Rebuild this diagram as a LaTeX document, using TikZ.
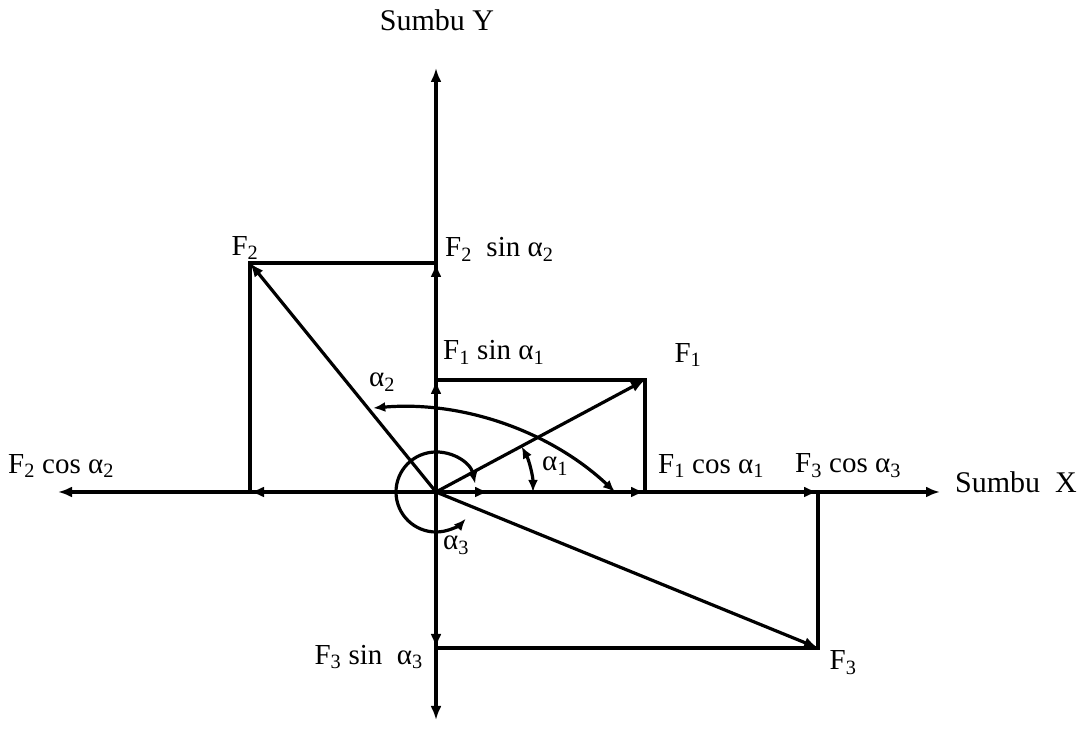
\documentclass[tikz,border=0pt]{standalone}
\usepackage{fontspec}
\setmainfont{Liberation Serif}
\usetikzlibrary{arrows.meta,calc}
\begin{document}
\begin{tikzpicture}[x=1pt,y=1pt,
  ln/.style={line width=3.2pt},
  vec/.style={ln,-{Latex[length=14pt,width=11pt]}},
  dvec/.style={ln,{Latex[length=12pt,width=10pt]}-{Latex[length=12pt,width=10pt]}},
  lbl/.style={font=\fontsize{29}{34}\selectfont,inner sep=0pt},
  axl/.style={font=\fontsize{30}{36}\selectfont,inner sep=0pt}]
\useasboundingbox (0,0) rectangle (1089,752);
% points
\coordinate (O) at (436,260);
\coordinate (Ytop) at (436,684);
\coordinate (Ybot) at (436,32);
\coordinate (Xr) at (940,260);
\coordinate (Xl) at (58,260);
\coordinate (F1) at (645,372);
\coordinate (F1y) at (436,372);
\coordinate (F1x) at (645,260);
\coordinate (F2) at (250,489);
\coordinate (F2y) at (436,489);
\coordinate (F2x) at (250,260);
\coordinate (F3) at (818,104);
\coordinate (F3y) at (436,104);
\coordinate (F3x) at (818,260);
\coordinate (Xs) at (489,260);
\coordinate (A2s) at (615,260);
% axes
\draw[vec] (O) -- (Ytop);
\draw[vec] (O) -- (Ybot);
\draw[vec] (O) -- (Xr);
\draw[vec] (O) -- (Xl);
% components
\draw[vec] (O) -- (F1y);
\draw[vec] (O) -- (F2y);
\draw[vec] (O) -- (F3y);
\draw[vec] (O) -- (F1x);
\draw[vec] (O) -- (F2x);
\draw[vec] (O) -- (F3x);
\draw[vec] (O) -- (Xs);
% rectangles
\draw[ln] (F1y) -- (F1) -- (F1x);
\draw[ln] (F2y) -- (F2) -- (F2x);
\draw[ln] (F3y) -- (F3) -- (F3x);
% force vectors
\draw[vec] (O) -- (F1);
\draw[vec] (O) -- (F2);
\draw[vec] (O) -- (F3);
% angle arcs
\draw[dvec] ($(O)+(97,0)$) arc[start angle=0,end angle=28,radius=97];
\draw[dvec] (A2s) arc[start angle=46.8,end angle=94.9,radius=314];
\draw[dvec] ($(O)+(12:40)$) arc[start angle=12,end angle=318,radius=40];
% labels
\node[axl] (sy) at (437,732) {Sumbu Y};
\node[axl,anchor=west] (sx) at (955,270) {Sumbu\ \ X};
\node[lbl] (lF2) at (245,504) {F\textsubscript{2}};
\node[lbl,anchor=west] (lF2s) at (445,503) {F\textsubscript{2}\ \ sin α\textsubscript{2}};
\node[lbl,anchor=west] (lF1s) at (443,400) {F\textsubscript{1} sin α\textsubscript{1}};
\node[lbl] (lF1) at (688,397) {F\textsubscript{1}};
\node[lbl] (la2) at (382,370) {α\textsubscript{2}};
\node[lbl] (la1) at (555,286) {α\textsubscript{1}};
\node[lbl,anchor=west] (lF1c) at (658,286) {F\textsubscript{1} cos α\textsubscript{1}};
\node[lbl,anchor=west] (lF3c) at (795,286) {F\textsubscript{3} cos α\textsubscript{3}};
\node[lbl,anchor=west] (lF2c) at (8,286) {F\textsubscript{2} cos α\textsubscript{2}};
\node[lbl,anchor=east] (lF3s) at (423,95) {F\textsubscript{3} sin\ \ α\textsubscript{3}};
\node[lbl] (lF3) at (843,89) {F\textsubscript{3}};
\node[lbl] (la3) at (456,207) {α\textsubscript{3}};
\end{tikzpicture}
\end{document}
